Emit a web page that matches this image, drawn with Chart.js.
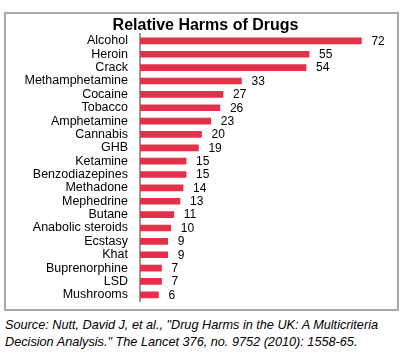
<!DOCTYPE html>
<html>
<head>
<meta charset="utf-8">
<script src="https://cdn.jsdelivr.net/npm/chart.js@4/dist/chart.umd.min.js"></script>
<style>
  html, body { margin: 0; padding: 0; background: #fff; }
  body { width: 403px; height: 364px; position: relative; overflow: hidden; }
  #box { position: absolute; left: 4px; top: 12px; width: 391px; height: 295px; border: 2px solid #a8a8a8; }
  #box canvas { display: block; }
  #src { position: absolute; left: 5px; top: 317px; font-family: "Liberation Sans", Arial, sans-serif; font-style: italic; font-size: 12.7px; line-height: 17px; color: #000; white-space: nowrap; }
</style>
</head>
<body>
<div id="box"><canvas id="c" width="391" height="295"></canvas></div>
<div id="src">Source: Nutt, David J, et al., "Drug Harms in the UK: A Multicriteria<br>Decision Analysis." The Lancet 376, no. 9752 (2010): 1558-65.</div>
<script>
const drugs = ["Alcohol","Heroin","Crack","Methamphetamine","Cocaine","Tobacco","Amphetamine","Cannabis","GHB","Ketamine","Benzodiazepines","Methadone","Mephedrine","Butane","Anabolic steroids","Ecstasy","Khat","Buprenorphine","LSD","Mushrooms"];
const harmScores = [72,55,54,33,27,26,23,20,19,15,15,14,13,11,10,9,9,7,7,6];
const chartTitle = "Relative Harms of Drugs";

const valueLabels = {
  id: 'valueLabels',
  afterDatasetsDraw(chart) {
    const ctx = chart.ctx;
    const meta = chart.getDatasetMeta(0);
    ctx.save();
    ctx.font = '12px "Liberation Sans", Arial, sans-serif';
    ctx.fillStyle = '#000';
    ctx.textAlign = 'left';
    ctx.textBaseline = 'middle';
    meta.data.forEach((bar, i) => {
      ctx.fillText(String(chart.data.datasets[0].data[i]), bar.x + 10, bar.y + 0.5);
    });
    ctx.restore();
  }
};

new Chart(document.getElementById('c'), {
  type: 'bar',
  data: {
    labels: drugs,
    datasets: [{
      data: harmScores,
      backgroundColor: '#E5304A',
      borderWidth: 0,
      barThickness: 6
    }]
  },
  options: {
    indexAxis: 'y',
    responsive: false,
    animation: false,
    layout: { padding: { top: 0, left: 8, right: 0, bottom: 7 } },
    plugins: {
      legend: { display: false },
      tooltip: { enabled: false },
      title: {
        display: true,
        text: chartTitle,
        color: '#000',
        font: { family: '"Liberation Sans", Arial, sans-serif', size: 16, weight: 'bold' },
        padding: { top: 2, bottom: -1 }
      }
    },
    scales: {
      x: { display: false, min: 0, max: 83.58 },
      y: {
        afterFit(scale) { scale.width = 126; },
        grid: { display: true, color: 'rgba(0,0,0,0)', drawTicks: true, tickLength: 12, tickColor: 'rgba(0,0,0,0)' },
        border: { display: true, color: '#9a9a9a', width: 2 },
        ticks: {
          color: '#000',
          padding: 0,
          autoSkip: false,
          font: { family: '"Liberation Sans", Arial, sans-serif', size: 12.5 }
        }
      }
    }
  },
  plugins: [valueLabels]
});
</script>
</body>
</html>
